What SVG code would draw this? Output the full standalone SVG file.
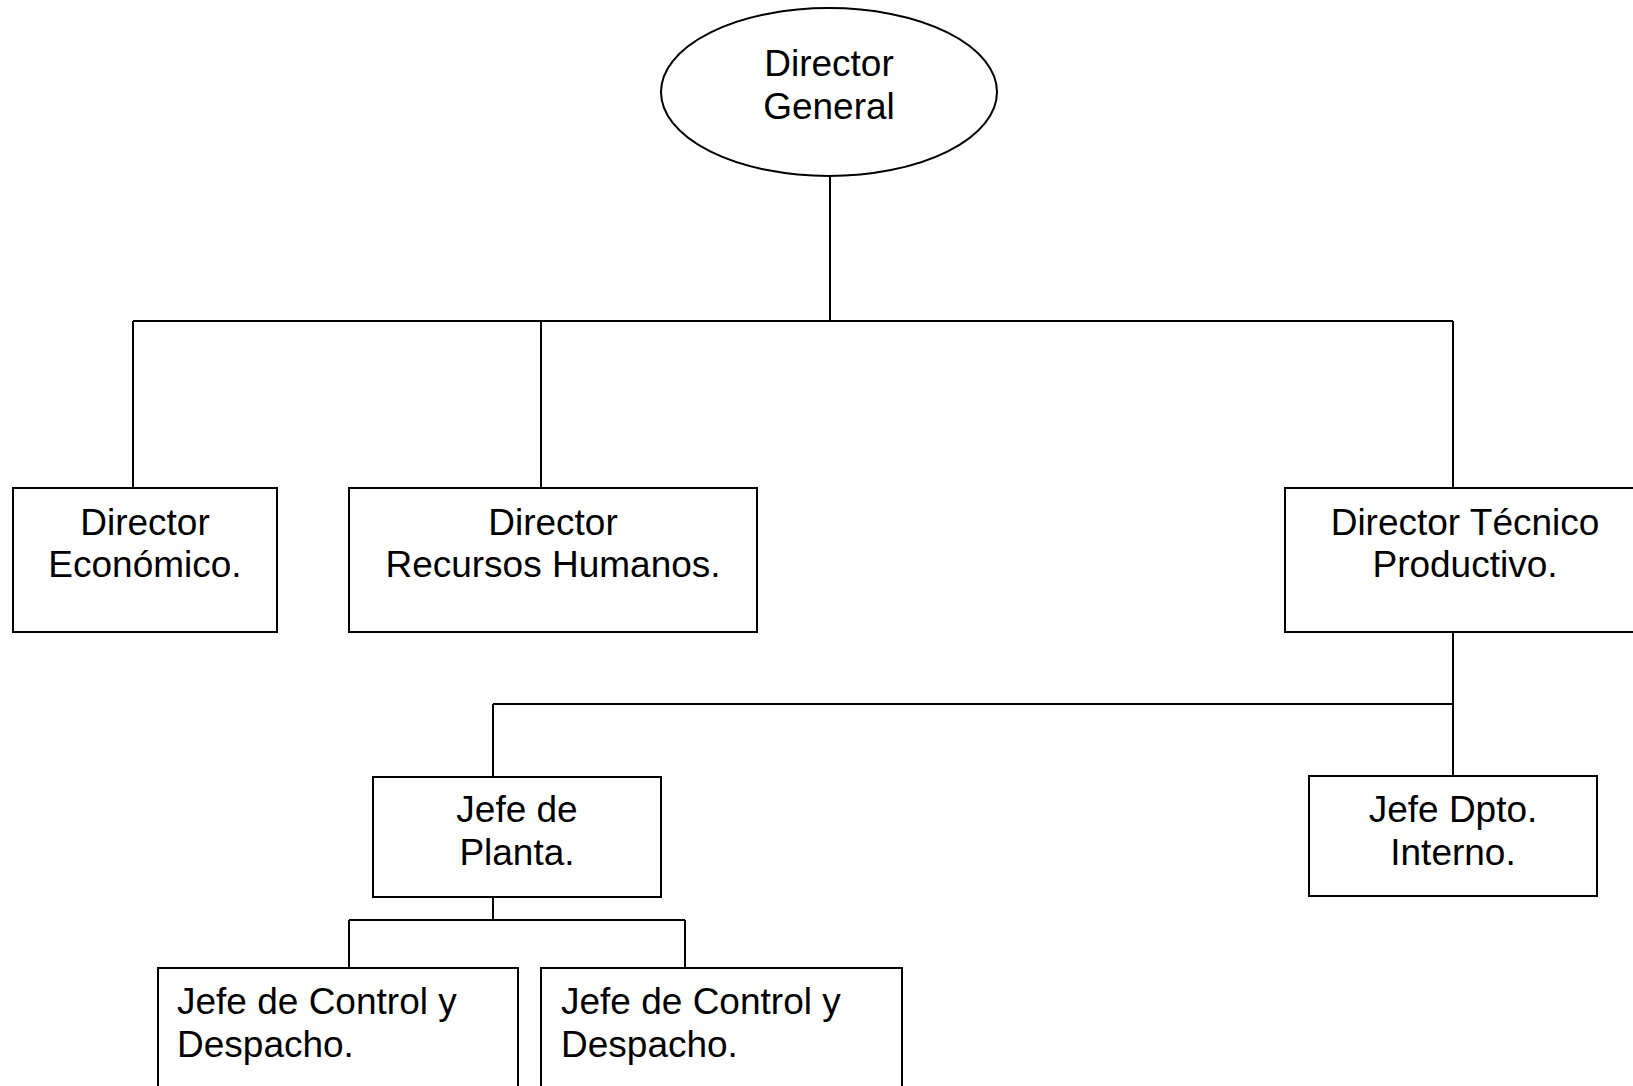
<svg xmlns="http://www.w3.org/2000/svg" width="1633" height="1086" viewBox="0 0 1633 1086">
<style>
.n{fill:#fff;stroke:#000;stroke-width:2}
.c{fill:none;stroke:#000;stroke-width:2}
text{font-family:"Liberation Sans",Arial,sans-serif;font-size:37px;fill:#000}
.m{text-anchor:middle}
</style>
<rect width="1633" height="1086" fill="#fff"/>
<g id="connectors">
<path class="c" d="M830 176V321M133 321H1453M133 321V488M541 321V488M1453 321V488"/>
<path class="c" d="M1453 632V776M493 704H1453M493 704V777"/>
<path class="c" d="M493 897V920M349 920H685M349 920V968M685 920V968"/>
</g>
<g id="director-general">
<ellipse class="n" cx="829" cy="92" rx="168" ry="84"/>
<text class="m" x="829" y="76">Director</text>
<text class="m" x="829" y="118.5">General</text>
</g>
<g id="director-economico">
<rect class="n" x="13" y="488" width="264" height="144"/>
<text class="m" x="145" y="535">Director</text>
<text class="m" x="145" y="577">Económico.</text>
</g>
<g id="director-rrhh">
<rect class="n" x="349" y="488" width="408" height="144"/>
<text class="m" x="553" y="535">Director</text>
<text class="m" x="553" y="577">Recursos Humanos.</text>
</g>
<g id="director-tecnico">
<rect class="n" x="1285" y="488" width="362" height="144"/>
<text class="m" x="1465" y="535">Director Técnico</text>
<text class="m" x="1465" y="577">Productivo.</text>
</g>
<g id="jefe-planta">
<rect class="n" x="373" y="777" width="288" height="120"/>
<text class="m" x="517" y="822">Jefe de</text>
<text class="m" x="517" y="864.5">Planta.</text>
</g>
<g id="jefe-dpto">
<rect class="n" x="1309" y="776" width="288" height="120"/>
<text class="m" x="1453" y="822">Jefe Dpto.</text>
<text class="m" x="1453" y="864.5">Interno.</text>
</g>
<g id="jefe-control-1">
<rect class="n" x="158" y="968" width="360" height="140"/>
<text x="177" y="1014">Jefe de Control y</text>
<text x="177" y="1056.5">Despacho.</text>
</g>
<g id="jefe-control-2">
<rect class="n" x="541" y="968" width="361" height="140"/>
<text x="561" y="1014">Jefe de Control y</text>
<text x="561" y="1056.5">Despacho.</text>
</g>
</svg>
